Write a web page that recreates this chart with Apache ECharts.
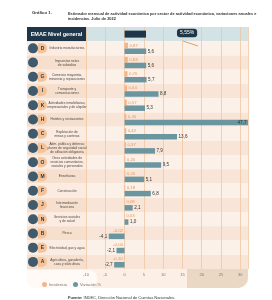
<!DOCTYPE html>
<html lang="es">
<head>
<meta charset="UTF-8">
<title>EMAE julio 2022</title>
<style>
  html, body { margin: 0; padding: 0; background: #fff; }
  #chart { width: 272px; height: 300px; }
</style>
</head>
<body>
<div id="chart"></div>
<script src="https://cdn.jsdelivr.net/npm/echarts@6/dist/echarts.min.js"></script>
<script type="text/javascript">
// datos del grafico
var sectores = ['EMAE Nivel general', 'Industria manufacturera', 'Impuestos netos\nde subsidios',
    'Comercio mayorista,\nminorista y reparaciones', 'Transporte y\ncomunicaciones',
    'Actividades inmobiliarias,\nempresariales y de alquiler', 'Hoteles y restaurantes',
    'Explotación de\nminas y canteras',
    'Adm. pública y defensa;\nplanes de seguridad social\nde afiliación obligatoria',
    'Otras actividades de\nservicios comunitarios,\nsociales y personales',
    'Enseñanza', 'Construcción', 'Intermediación\nfinanciera', 'Servicios sociales\ny de salud',
    'Pesca', 'Electricidad, gas y agua', 'Agricultura, ganadería,\ncaza y silvicultura'];
var letras = ['', 'D', '', 'G', 'I', 'K', 'H', 'C', 'L', 'O', 'M', 'F', 'J', 'N', 'B', 'E', 'A'];
var incidencia = [null, 0.87, 0.83, 0.76, 0.64, 0.57, 0.45, 0.42, 0.37, 0.20, 0.20, 0.18, 0.08, 0.03, -0.02, -0.04, -0.10];
var variacion = [null, 5.6, 5.6, 5.7, 8.8, 5.3, 47.7, 13.6, 7.9, 9.5, 5.1, 6.8, 2.1, 1.0, -4.1, -2.1, -2.7];
var emaeGeneral = [5.55];
var ejeMin = -10, ejeMax = 32, ejePaso = 5;

var navy = '#1f3548', teal = '#6b96a0', naranja = '#f4b48a', naranjaTxt = '#e39658';
var fuente = '"Liberation Sans", Arial, sans-serif';

function coma(v, d) { return v.toFixed(d).replace('.', ','); }

// bandas de fondo
var bandas = [], bandasIzq = [];
for (var i = 0; i < sectores.length; i++) {
    if (i == 0) { bandas.push('#d2e2e5'); bandasIzq.push(navy); }
    else { bandas.push(i % 2 ? '#fcf1e9' : '#f9e5d7'); bandasIzq.push(i % 2 ? '#fbebe0' : '#f7dfcd'); }
}

var incData = incidencia.map(function (v) {
    if (v == null) return '-';
    return { value: v, label: { position: v < 0 ? 'left' : 'right' } };
});
var varData = variacion.map(function (v) {
    if (v == null) return '-';
    return { value: Math.min(v, ejeMax), real: v, label: { position: v < 0 ? 'left' : (v > ejeMax ? 'insideRight' : 'right') } };
});
var emaeData = sectores.map(function (s, i) { return i == 0 ? emaeGeneral[0] : '-'; });

var myChart = echarts.init(document.getElementById('chart'));
var option = {
    animation: false,
    textStyle: { fontFamily: fuente },
    title: [{
        text: 'Gráfico 1.', left: 27, top: 6,
        textStyle: { fontSize: 4.3, fontWeight: 'bold', color: '#333' }
    }, {
        text: 'Estimador mensual de actividad económica por sector de actividad económica, variaciones anuales e\nincidencias. Julio de 2022',
        left: 63, top: 6,
        textStyle: { fontSize: 3.9, fontWeight: 'bold', color: '#333', lineHeight: 5.5 }
    }, {
        text: '{b|Fuente:} INDEC, Dirección Nacional de Cuentas Nacionales.',
        left: 63, top: 291,
        textStyle: { fontSize: 4, color: '#333', fontWeight: 'normal', rich: { b: { fontSize: 4, fontWeight: 'bold', color: '#333' } } }
    }],
    legend: {
        data: ['Incidencia', 'Variación %'],
        left: 37, top: 277,
        icon: 'circle', itemWidth: 5, itemHeight: 5, itemGap: 6,
        textStyle: { fontSize: 4, color: '#777', padding: [0, 0, 0, -3] }
    },
    graphic: [{
        type: 'rect', z: -10,
        shape: { x: 27, y: 268, width: 221, height: 20, r: [0, 0, 10, 10] },
        style: { fill: '#fbefe6' }
    }, {
        type: 'rect', z: -9,
        shape: { x: 187, y: 268, width: 61, height: 20, r: [0, 0, 10, 0] },
        style: { fill: '#ead8c4' }
    }, {
        type: 'rect', z: -8,
        shape: { x: 27, y: 270, width: 70, height: 18, r: [0, 8, 8, 8] },
        style: { fill: '#fffaf6' }
    }, {
        type: 'line', z: 10,
        shape: { x1: 183, y1: 41, x2: 198, y2: 46 },
        style: { stroke: '#e8a060', lineWidth: 1 }
    }],
    grid: [
        { left: 86, right: 24, top: 27, bottom: 31 },
        { left: 27, width: 59, top: 27, bottom: 31 }
    ],
    xAxis: [{
        gridIndex: 0, type: 'value', min: ejeMin, max: ejeMax, interval: ejePaso,
        axisLine: { show: false }, axisTick: { show: false },
        axisLabel: {
            fontSize: 4, color: '#777', margin: 4,
            formatter: function (v) { return v % ejePaso == 0 ? v : ''; }
        },
        splitLine: { lineStyle: { color: '#efc7a2', width: 0.8 } }
    }, {
        gridIndex: 1, type: 'value', min: 0, max: 1, show: false
    }],
    yAxis: [{
        gridIndex: 0, type: 'category', data: sectores, inverse: true,
        axisLine: { show: false }, axisTick: { show: false },
        splitArea: { show: true, areaStyle: { color: bandas } },
        axisLabel: {
            interval: 0, align: 'center', margin: 19,
            fontSize: 3.3, lineHeight: 4, color: '#4a4a4a',
            formatter: function (v, i) { return i == 0 ? '' : v; }
        }
    }, {
        gridIndex: 0, type: 'category', data: sectores, inverse: true, show: false
    }, {
        gridIndex: 1, type: 'category', data: sectores, inverse: true,
        axisLine: { show: false }, axisTick: { show: false },
        splitArea: { show: true, areaStyle: { color: bandasIzq } },
        axisLabel: {
            interval: 0, inside: true, margin: 1,
            formatter: function (v, i) {
                if (i == 0) return '{h|EMAE Nivel general}';
                return '{ic|}{' + (letras[i] ? 'lt' : 'lv') + '|' + letras[i] + '}';
            },
            rich: {
                h: { color: '#fff', fontWeight: 'bold', fontSize: 5.5, width: 57, align: 'center' },
                ic: { width: 10, height: 10, borderRadius: 5, backgroundColor: '#3e5a6c' },
                lt: { width: 9, height: 10, borderRadius: [0, 5, 5, 0], backgroundColor: '#f5c39a',
                      color: navy, fontWeight: 'bold', fontSize: 5, align: 'center' },
                lv: { width: 9, height: 10 }
            }
        }
    }],
    series: [{
        name: 'Incidencia', type: 'bar',
        xAxisIndex: 0, yAxisIndex: 0,
        data: incData, barWidth: 5.5, barGap: '5%',
        itemStyle: { color: naranja },
        label: {
            show: true, fontSize: 4.3, color: naranjaTxt, distance: 1.5,
            formatter: function (p) { return coma(p.value, 2); }
        }
    }, {
        name: 'Variación %', type: 'bar',
        xAxisIndex: 0, yAxisIndex: 0,
        data: varData, barWidth: 5.5, barGap: '5%',
        itemStyle: { color: teal },
        label: {
            show: true, fontSize: 4.6, color: '#333', distance: 1.5,
            formatter: function (p) { return coma(p.data.real, 1); }
        }
    }, {
        name: 'EMAE', type: 'bar',
        xAxisIndex: 0, yAxisIndex: 1,
        data: emaeData, barWidth: 7,
        itemStyle: { color: navy },
        label: {
            show: true, position: 'right', offset: [26, -1],
            fontSize: 5, color: '#fff', backgroundColor: navy,
            padding: [2, 3, 1.5, 3], borderRadius: 3,
            formatter: function (p) { return coma(p.value, 2) + '%'; }
        }
    }]
};
myChart.setOption(option);
</script>
</body>
</html>
